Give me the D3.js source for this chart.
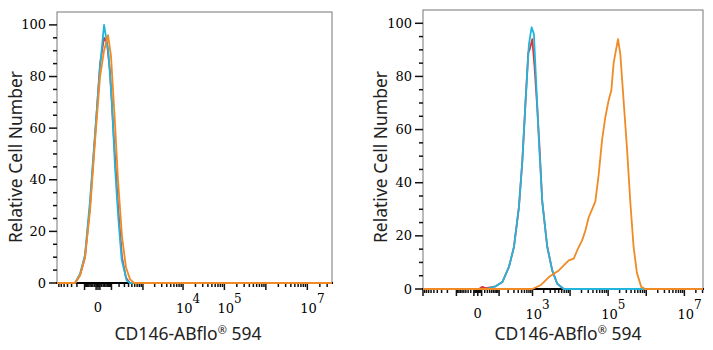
<!DOCTYPE html>
<html>
<head>
<meta charset="utf-8">
<script src="https://cdn.jsdelivr.net/npm/d3@7"></script>
<style>
  body { margin: 0; background: #fff; }
  .tick-label { font-family: "DejaVu Serif", serif; font-size: 13px; fill: #000; }
  .axis-title { font-family: "Noto Sans", sans-serif; font-size: 17.5px; fill: #222; }
</style>
</head>
<body>
<div id="chart"></div>
<script>
/* global d3 */

// y axis
var yTicks = [0, 20, 40, 60, 80, 100];

// x axis labels (fluorescence units)
var leftXLabels = [0, 1e4, 1e5, 1e7];
var rightXLabels = [0, 1e3, 1e5, 1e7];

// left panel histograms
var leftRedX = [-232, -154, -95, -50, -16, 11, 36, 58, 85, 129, 183, 251, 336, 441];
var leftRedY = [0, 3, 10, 30, 57, 85, 95, 93, 82, 55, 30, 10, 2, 0];
var leftCyanX = [-232, -154, -95, -50, -16, 11, 36, 69, 103, 141, 188, 245, 353, 441];
var leftCyanY = [0, 3.6, 11, 32, 58, 84, 100, 90, 71, 45, 25, 9, 1, 0];
var leftOrangeX = [-232, -154, -95, -50, -16, 11, 36, 67, 95, 141, 183, 251, 336, 441, 573];
var leftOrangeY = [0, 3, 10, 28, 55, 80, 90, 96, 88, 62, 40, 18, 6, 1.5, 0];

// right panel histograms
var rightRedX = [3, 12, 24, 74, 130, 212, 300, 419, 522, 646, 766, 832, 985, 1137, 1345, 1550, 1830, 2485, 3374, 4572, 6820];
var rightRedY = [0, 0.8, 0.3, 1, 2.6, 8.3, 15.8, 30.8, 48, 71, 89, 90, 94, 83.5, 68, 53, 33, 16, 7, 2, 0];
var rightCyanX = [24, 74, 130, 212, 300, 419, 522, 646, 796, 943, 1089, 1264, 1485, 1830, 2485, 3374, 4572, 6820];
var rightCyanY = [0, 1, 2.6, 8.3, 15.8, 30.8, 48, 71, 92, 98.5, 96, 77, 56, 33, 16, 7, 2, 0];
var rightOrangeX = [985, 1649, 2743, 5038, 9230, 12487, 15334, 20725, 25297, 30860, 37880, 46200, 56400,
    69200, 84400, 103000, 121200, 139300, 160900, 181500, 208500, 254300, 312000, 380400, 464000, 569600, 738700, 938600];
var rightOrangeY = [0, 1.4, 4.5, 7, 10.8, 11.4, 14.5, 18.3, 22, 27, 30, 33, 43,
    56, 64.7, 71, 74.7, 85, 90, 94, 88.5, 71, 53, 33, 16, 6, 0.8, 0];

var colors = {red: "#d8383c", cyan: "#22b5dc", orange: "#f08a24"};

var svg = d3.select("#chart")
        .append("svg")
        .attr("width", 713)
        .attr("height", 350);

function drawPanel(p) {
    var x = d3.scaleSymlog()
            .constant(p.constant)
            .domain(p.domain)
            .range([p.left, p.right]);
    var y = d3.scaleLinear()
            .domain([0, 105])
            .range([p.bottom, p.top]);

    var g = svg.append("g");

    // frame
    g.append("rect")
            .attr("x", p.left)
            .attr("y", p.top)
            .attr("width", p.right - p.left)
            .attr("height", p.bottom - p.top)
            .attr("fill", "none")
            .attr("stroke", "#777")
            .attr("stroke-width", 1);

    // y ticks every 5
    g.selectAll(".ytick")
            .data(d3.range(0, 101, 5))
            .enter()
            .append("line")
            .attr("x1", function (d) { return d % 20 === 0 ? p.left - 8 : p.left - 4; })
            .attr("x2", p.left)
            .attr("y1", function (d) { return y(d); })
            .attr("y2", function (d) { return y(d); })
            .attr("stroke", "#111")
            .attr("stroke-width", 1.5);

    g.selectAll(".ylab")
            .data(yTicks)
            .enter()
            .append("text")
            .attr("class", "tick-label")
            .attr("x", p.left - 11)
            .attr("y", function (d) { return y(d) + 4.5; })
            .attr("text-anchor", "end")
            .text(function (d) { return d; });

    // x ticks: decades with 2..9 minors, both signs, plus 1..9 near zero
    var xt = [{v: 0, major: true}];
    for (var e = 1; e <= 7; e++) {
        for (var m = 1; m <= 9; m++) {
            var v = m * Math.pow(10, e);
            xt.push({v: v, major: m === 1});
            xt.push({v: -v, major: m === 1});
        }
    }
    for (var k = 1; k <= 9; k++) {
        xt.push({v: k, major: false});
        xt.push({v: -k, major: false});
    }
    xt = xt.filter(function (d) { return d.v >= p.domain[0] && d.v <= p.domain[1]; });

    g.selectAll(".xtick")
            .data(xt)
            .enter()
            .append("line")
            .attr("x1", function (d) { return x(d.v); })
            .attr("x2", function (d) { return x(d.v); })
            .attr("y1", p.bottom)
            .attr("y2", function (d) { return p.bottom + (d.major ? 7 : 4); })
            .attr("stroke", "#111")
            .attr("stroke-width", 1.5);

    // bottom axis line
    g.append("line")
            .attr("x1", p.left - 1)
            .attr("x2", p.right + 1)
            .attr("y1", p.bottom)
            .attr("y2", p.bottom)
            .attr("stroke", "#000")
            .attr("stroke-width", 2);

    // x labels
    g.selectAll(".xlab")
            .data(p.labels)
            .enter()
            .append("text")
            .attr("class", "tick-label")
            .each(function (d) {
                var t = d3.select(this);
                if (d === 0) {
                    t.attr("x", x(0)).attr("y", p.labelY).attr("text-anchor", "middle").text("0");
                } else {
                    t.attr("x", x(d) - 7).attr("y", p.labelY + 1).attr("text-anchor", "start");
                    t.append("tspan").text("10");
                    t.append("tspan").attr("dy", -10).attr("font-size", "12px")
                            .text(Math.round(Math.log10(d)));
                }
            });

    // histograms
    var line = d3.line()
            .x(function (d) { return x(d[0]); })
            .y(function (d) { return y(d[1]); });

    p.curves.forEach(function (c) {
        var pts = [[p.domain[0], 0]];
        c.xs.forEach(function (xv, i) { pts.push([xv, c.ys[i]]); });
        pts.push([p.domain[1], 0]);
        g.append("path")
                .attr("d", line(pts))
                .attr("fill", "none")
                .attr("stroke", c.color)
                .attr("stroke-width", 1.8)
                .attr("stroke-linejoin", "round");
    });

    // titles
    g.append("text")
            .attr("class", "axis-title")
            .attr("transform", "translate(" + p.yTitleX + "," + 157 + ") rotate(-90)")
            .attr("text-anchor", "middle")
            .text("Relative Cell Number");

    var xt2 = g.append("text")
            .attr("class", "axis-title")
            .attr("x", p.xTitleX)
            .attr("y", 340)
            .attr("text-anchor", "middle");
    xt2.append("tspan").text("CD146-ABflo");
    xt2.append("tspan").attr("font-size", "11px").attr("dy", -6).text("®");
    xt2.append("tspan").attr("dy", 6).text(" 594");
}

drawPanel({
    left: 57, right: 332, top: 12, bottom: 283,
    constant: 90, domain: [-786, 3.93e7],
    labels: leftXLabels, labelY: 312,
    yTitleX: 22, xTitleX: 188,
    curves: [
        {xs: leftRedX, ys: leftRedY, color: colors.red},
        {xs: leftCyanX, ys: leftCyanY, color: colors.cyan},
        {xs: leftOrangeX, ys: leftOrangeY, color: colors.orange}
    ]
});

drawPanel({
    left: 423, right: 703, top: 10, bottom: 289,
    constant: 38, domain: [-1000, 3.08e7],
    labels: rightXLabels, labelY: 318,
    yTitleX: 387, xTitleX: 568,
    curves: [
        {xs: rightRedX, ys: rightRedY, color: colors.red},
        {xs: rightCyanX, ys: rightCyanY, color: colors.cyan},
        {xs: rightOrangeX, ys: rightOrangeY, color: colors.orange}
    ]
});
</script>
</body>
</html>
